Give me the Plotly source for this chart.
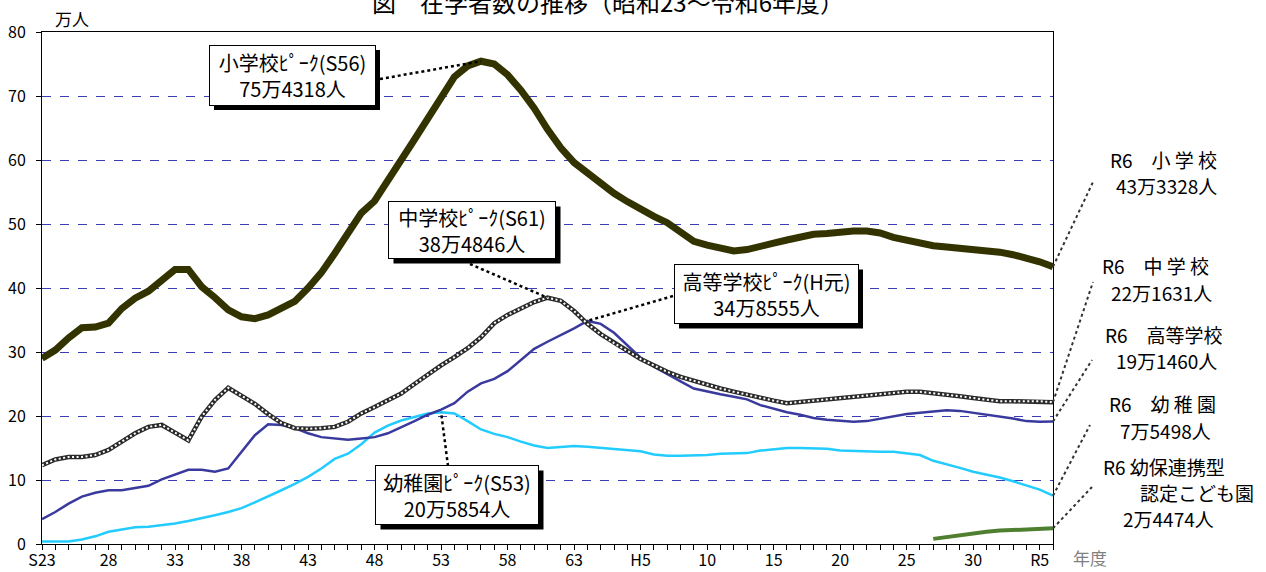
import plotly.graph_objects as go

# ---------------- data (万人) ----------------
years = list(range(1948, 2025))

elementary = [29.0, 30.3, 32.2, 33.8, 33.9, 34.5, 36.8, 38.4, 39.5, 41.3,
              42.9, 42.9, 40.2, 38.5, 36.6, 35.5, 35.2, 35.8, 36.8, 37.9,
              40.0, 42.4, 45.4, 48.6, 51.7, 53.6, 56.6, 60.0, 63.2, 66.4,
              69.6, 73.0, 74.7, 75.4318, 75.0, 73.3, 70.9, 68.1, 64.8, 61.9,
              59.6, 57.9, 56.3, 54.8, 53.5, 52.2, 51.2, 50.2, 48.8, 47.3,
              46.7, 46.3, 45.8, 46.0, 46.4, 47.0, 47.5, 48.0, 48.4, 48.5,
              48.8, 48.9, 48.9, 48.6, 47.9, 47.4, 47.0, 46.6, 46.4, 46.2,
              46.1, 45.9, 45.6, 45.2, 44.7, 44.1, 43.3328]

junior = [12.3, 13.2, 13.6, 13.6, 13.9, 14.7, 16.0, 17.3, 18.3, 18.6,
          17.4, 16.2, 19.9, 22.5, 24.4, 23.2, 21.9, 20.3, 18.9, 18.1,
          18.0, 18.1, 18.3, 19.1, 20.4, 21.4, 22.4, 23.5, 25.0, 26.5,
          27.9, 29.2, 30.6, 32.3, 34.5, 35.8, 36.8, 37.8, 38.4846, 38.0,
          36.4, 34.4, 32.8, 31.4, 30.2, 28.9, 27.9, 26.9, 26.1, 25.5,
          24.8, 24.3, 23.8, 23.3, 22.8, 22.4, 22.0, 22.2, 22.5, 22.7,
          22.9, 23.0, 23.2, 23.4, 23.6, 23.8, 23.8, 23.6, 23.4, 23.1,
          22.8, 22.5, 22.3, 22.3, 22.3, 22.3, 22.1631]

high = [3.9, 5.0, 6.3, 7.4, 8.0, 8.4, 8.4, 8.7, 9.1, 10.1,
        10.8, 11.6, 11.6, 11.3, 11.8, 14.4, 17.0, 18.7, 18.6, 18.1,
        17.3, 16.7, 16.5, 16.3, 16.5, 16.7, 17.3, 18.2, 19.2, 20.2,
        21.0, 22.0, 23.8, 25.1, 25.8, 27.0, 28.8, 30.5, 31.6, 32.6,
        33.7, 34.8555, 34.4, 33.0, 31.0, 29.1, 27.7, 26.5, 25.4, 24.3,
        23.8, 23.4, 23.0, 22.6, 21.7, 21.1, 20.6, 20.2, 19.7, 19.4,
        19.2, 19.1, 19.2, 19.6, 20.0, 20.3, 20.5, 20.7, 20.9, 20.8,
        20.5, 20.2, 20.0, 19.6, 19.2, 19.1, 19.1460]

kinder = [0.4, 0.4, 0.4, 0.7, 1.2, 1.9, 2.3, 2.6, 2.7, 2.9,
          3.2, 3.6, 4.0, 4.5, 5.0, 5.6, 6.5, 7.4, 8.4, 9.4,
          10.5, 11.8, 13.3, 14.1, 15.6, 17.4, 18.5, 19.3, 19.9, 20.4,
          20.5854, 20.4, 19.2, 17.9, 17.2, 16.7, 16.0, 15.4, 15.0, 15.2,
          15.3, 15.2, 15.0, 14.9, 14.7, 14.5, 14.0, 13.8, 13.8, 13.8,
          13.9, 14.1, 14.2, 14.2, 14.6, 14.8, 15.0, 15.0, 15.0, 14.9,
          14.6, 14.5, 14.4, 14.4, 14.4, 14.2, 13.9, 13.0, 12.5, 11.9,
          11.3, 10.9, 10.4, 9.8, 9.2, 8.5, 7.5498]

kodomo_years = list(range(2015, 2025))
kodomo = [0.8, 1.1, 1.4, 1.7, 1.9, 2.1, 2.2, 2.3, 2.4, 2.4474]

tick_years = list(range(1948, 2024, 5))
tick_labels = ["S23", "28", "33", "38", "43", "48", "53", "58", "63",
               "H5", "10", "15", "20", "25", "30", "R5"]

# peaks: (year, value, label)
peaks = [
    (1981, 75.4318, "小学校ﾋﾟｰｸ(S56)<br>75万4318人"),
    (1986, 38.4846, "中学校ﾋﾟｰｸ(S61)<br>38万4846人"),
    (1989, 34.8555, "高等学校ﾋﾟｰｸ(H元)<br>34万8555人"),
    (1978, 20.5854, "幼稚園ﾋﾟｰｸ(S53)<br>20万5854人"),
]

# ---------------- layout geometry ----------------
W, H = 1266, 572
L, R, T, B = 42, 1053, 32, 544
X0, X1 = 1948, 2024
Y0, Y1 = 0, 80
FONT = "Noto Sans CJK JP"


def px_year(px):
    return X0 + (px - L) / (R - L) * (X1 - X0)


def py_val(py):
    return Y0 + (B - py) / (B - T) * (Y1 - Y0)


def px_paper(px):
    return (px - L) / (R - L)


def py_paper(py):
    return (B - py) / (B - T)


fig = go.Figure()

fig.add_trace(go.Scatter(x=years, y=kinder, mode="lines",
                         line=dict(color="#22CCFF", width=2.5), name="幼稚園"))
fig.add_trace(go.Scatter(x=kodomo_years, y=kodomo, mode="lines",
                         line=dict(color="#4E8030", width=4), name="幼保連携型認定こども園"))
fig.add_trace(go.Scatter(x=years, y=high, mode="lines",
                         line=dict(color="#3A3A9E", width=2.5), name="高等学校"))
fig.add_trace(go.Scatter(x=years, y=junior, mode="lines",
                         line=dict(color="#2A2A2A", width=4.5), name="中学校"))
fig.add_trace(go.Scatter(x=years, y=junior, mode="lines",
                         line=dict(color="#FFFFFF", width=2, dash="2px,2.5px"),
                         name="中学校", hoverinfo="skip"))
fig.add_trace(go.Scatter(x=years, y=elementary, mode="lines",
                         line=dict(color="#333300", width=7), name="小学校"))

shapes = []
annotations = []

# peak boxes: (center px, box w, h, connector start px)
peak_boxes = [
    ((292, 75), 163, 57, (380, 79)),
    ((472, 230), 164, 54, (470, 264)),
    ((766, 294), 181, 56, (673, 296)),
    ((457, 495), 160, 56, (448, 466)),
]
SH = 5  # shadow offset (px)
for (yr, val, txt), ((cx, cy), bw, bh, (sx, sy)) in zip(peaks, peak_boxes):
    shapes.append(dict(type="line", xref="x", yref="y",
                       x0=px_year(sx), y0=py_val(sy), x1=yr, y1=val,
                       line=dict(color="black", width=2.5, dash="dot")))
    # drop shadow of the box
    hw, hh = bw / 2 + 1.5, bh / 2 + 1.5
    shapes.append(dict(type="rect", xref="paper", yref="paper", layer="above",
                       x0=px_paper(cx - hw + SH), x1=px_paper(cx + hw + SH),
                       y0=py_paper(cy + hh + SH), y1=py_paper(cy - hh + SH),
                       fillcolor="black", line=dict(width=0)))
    annotations.append(dict(xref="paper", yref="paper", x=px_paper(cx), y=py_paper(cy),
                            xanchor="center", yanchor="middle",
                            text=txt, showarrow=False, width=bw, height=bh,
                            bordercolor="black", borderwidth=1, bgcolor="white",
                            font=dict(family=FONT, size=20, color="black")))

# right-side end labels
last_vals = [elementary[-1], junior[-1], high[-1], kinder[-1], kodomo[-1]]
end_targets = [(1093, 182), (1093, 282), (1092, 360), (1090, 425), (1092, 487)]
for v, (ex, ey) in zip(last_vals, end_targets):
    shapes.append(dict(type="line", xref="paper", yref="y",
                       x0=1.0, y0=v, x1=px_paper(ex), y1=py_val(ey),
                       line=dict(color="#333333", width=2, dash="dot")))

right_lines = [
    ("R6　小 学 校", 1163, 159), ("43万3328人", 1166, 185),
    ("R6　中 学 校", 1155, 265), ("22万1631人", 1161, 292),
    ("R6　高等学校", 1164, 334), ("19万1460人", 1166, 360),
    ("R6　幼 稚 園", 1162, 403), ("7万5498人", 1165, 430),
    ("R6 幼保連携型", 1164, 466), ("認定こども園", 1197, 492), ("2万4474人", 1168, 518),
]
for txt, cx, cy in right_lines:
    annotations.append(dict(xref="paper", yref="paper", x=px_paper(cx), y=py_paper(cy),
                            text=txt, showarrow=False, xanchor="center", yanchor="middle",
                            font=dict(family=FONT, size=19, color="black")))

# title (cut off at top, as in the original), unit, axis name
annotations.append(dict(xref="paper", yref="paper", x=px_paper(608), y=py_paper(1),
                        text="図　在学者数の推移（昭和23～令和6年度）", showarrow=False,
                        xanchor="center", yanchor="middle",
                        font=dict(family=FONT, size=24, color="black")))
annotations.append(dict(xref="paper", yref="paper", x=px_paper(72), y=py_paper(18),
                        text="万人", showarrow=False, xanchor="center", yanchor="middle",
                        font=dict(family=FONT, size=17, color="black")))
annotations.append(dict(xref="paper", yref="paper", x=px_paper(1090), y=py_paper(557),
                        text="年度", showarrow=False, xanchor="center", yanchor="middle",
                        font=dict(family=FONT, size=17, color="#808080")))

fig.update_layout(
    width=W, height=H,
    margin=dict(l=L, r=W - R, t=T, b=H - B, pad=0, autoexpand=False),
    paper_bgcolor="white", plot_bgcolor="white",
    showlegend=False,
    shapes=shapes, annotations=annotations,
    font=dict(family=FONT, size=16, color="black"),
)
fig.update_xaxes(range=[X0, X1], tickvals=tick_years, ticktext=tick_labels,
                 ticks="outside", ticklen=5, tickcolor="black", tickwidth=1,
                 minor=dict(dtick=1, ticks="outside", ticklen=5, tickcolor="black", tickwidth=1),
                 showgrid=False, zeroline=False, automargin=False,
                 ticklabelstandoff=-3,
                 showline=True, linecolor="black", linewidth=1, mirror=True,
                 tickfont=dict(family=FONT, size=16, color="black"))
fig.update_yaxes(range=[Y0, Y1], dtick=10, ticks="outside", ticklen=5,
                 tickcolor="black", tickwidth=1, automargin=False,
                 ticklabelstandoff=7,
                 showgrid=True, gridcolor="#3C3CB4", gridwidth=1, griddash="dash",
                 zeroline=False, showline=True, linecolor="black", linewidth=1, mirror=True,
                 tickfont=dict(family=FONT, size=16, color="black"))

fig.write_html("out.html", config={"displayModeBar": False},
               post_script="document.body.style.margin='0px';")
